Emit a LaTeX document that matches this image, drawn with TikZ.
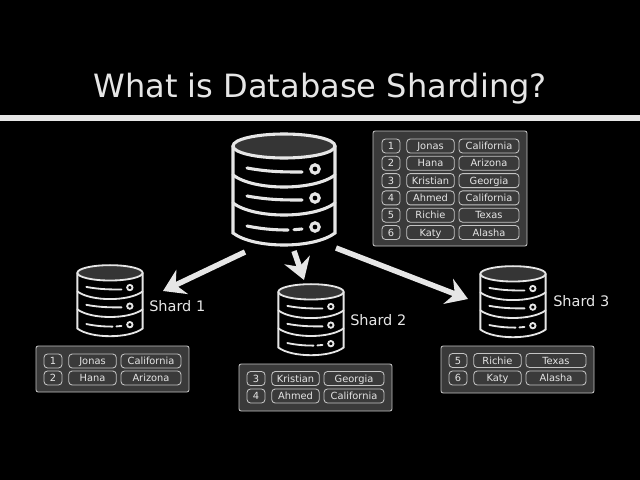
\documentclass[tikz,border=0pt]{standalone}
\usepackage{fontspec}
\setmainfont{DejaVu Sans}
\usetikzlibrary{arrows.meta}
\definecolor{inkwhite}{HTML}{E6E6E6}
\definecolor{cellline}{HTML}{C4C4C4}
\definecolor{panelgray}{HTML}{3A3A3A}
\definecolor{capgray}{HTML}{353535}

\tikzset{
  panelbox/.style={draw=cellline,fill=panelgray,rounded corners=1.5pt,line width=.6pt},
  cellbox/.style={draw=cellline,rounded corners=2.5pt,line width=.6pt,minimum height=.35cm,
    inner sep=0,text=inkwhite,text height=5pt,text depth=0pt,font=\fontsize{7}{8}\selectfont},
  numcell/.style={cellbox,minimum width=.45cm},
  namecell/.style={cellbox,minimum width=1.19cm},
  statecell/.style={cellbox,minimum width=1.5cm},
  shardlabel/.style={text=inkwhite,font=\fontsize{10.3}{12}\selectfont,inner sep=0},
  dbline/.style={draw=inkwhite,line width=2.2pt,line cap=round},
  bigarrow/.style={draw=inkwhite,line width=3.9pt,
    -{Stealth[length=15pt,width=19pt,inset=5pt]}},
  pics/dbicon/.style={code={
    \draw[dbline,fill=capgray] (0,-44) ellipse (51 and 12);
    \draw[dbline] (-51,-44) -- (-51,43) .. controls (-30,59) and (30,59) .. (51,43) -- (51,-44);
    \draw[dbline] (-51,-15) .. controls (-30,1) and (30,1) .. (51,-15);
    \draw[dbline] (-51,13) .. controls (-30,29) and (30,29) .. (51,13);
    \draw[dbline] (-37,-22) .. controls (-15,-18) and (0,-18) .. (18,-18);
    \draw[dbline] (-37,6) .. controls (-15,10) and (0,10) .. (18,10);
    \draw[dbline] (-37,36) .. controls (-22,39) and (-10,40) .. (4,40);
    \draw[dbline] (10,39.7) -- (18,39);
    \draw[dbline] (31,-21) circle (4.2);
    \draw[dbline] (31,8) circle (4.2);
    \draw[dbline] (31,37) circle (4.2);
  }}
}

% one table line: prefix, x of the number cell, y, then the three texts
\newcommand{\tablerow}[6]{
  \node[numcell] (#1num) at (#2,#3) {#4};
  \node[namecell] (#1name) at (#2+39.5,#3) {#5};
  \node[statecell] (#1state) at (#2+98,#3) {#6};
}

\begin{document}
\begin{tikzpicture}[x=.025cm,y=-.025cm,>=Stealth]
  \fill[black] (0,0) rectangle (640,480);

  \node[text=inkwhite,font=\fontsize{22.8}{28}\selectfont,inner sep=0] (title) at (320,89) {What is Database Sharding?};
  \fill[inkwhite] (0,115) rectangle (640,121);

  % databases
  \pic at (284,190) {dbicon};
  \pic[scale=.64,dbline/.append style={line width=1.3pt}] at (110,301) {dbicon};
  \pic[scale=.64,dbline/.append style={line width=1.3pt}] at (311,320) {dbicon};
  \pic[scale=.64,dbline/.append style={line width=1.3pt}] at (513,302) {dbicon};

  \node[shardlabel,anchor=west] (labelone) at (149,306) {Shard 1};
  \node[shardlabel,anchor=west] (labeltwo) at (350,320) {Shard 2};
  \node[shardlabel,anchor=west] (labelthree) at (553,301) {Shard 3};

  % arrows
  \coordinate (startone) at (245,252);
  \coordinate (endone) at (163,291);
  \coordinate (starttwo) at (294,251);
  \coordinate (endtwo) at (304,280);
  \coordinate (startthree) at (336,248);
  \coordinate (endthree) at (468,299);
  \draw[bigarrow] (startone) -- (endone);
  \draw[bigarrow] (starttwo) -- (endtwo);
  \draw[bigarrow] (startthree) -- (endthree);

  % full table
  \draw[panelbox] (373,131) rectangle (527,246);
  \foreach \i/\nm/\st in {1/Jonas/California,2/Hana/Arizona,3/Kristian/Georgia,
    4/Ahmed/California,5/Richie/Texas,6/Katy/Alasha}{
    \pgfmathsetmacro{\rowy}{146+(\i-1)*17.3}
    \tablerow{main\i}{391}{\rowy}{\i}{\nm}{\st}
  }

  % shard tables
  \draw[panelbox] (36,346) rectangle (189,392);
  \tablerow{oneA}{53}{361}{1}{Jonas}{California}
  \tablerow{oneB}{53}{378}{2}{Hana}{Arizona}

  \draw[panelbox] (239,364) rectangle (392,411);
  \tablerow{twoA}{256}{378.5}{3}{Kristian}{Georgia}
  \tablerow{twoB}{256}{396}{4}{Ahmed}{California}

  \draw[panelbox] (441,346) rectangle (594,393);
  \tablerow{threeA}{458}{360.5}{5}{Richie}{Texas}
  \tablerow{threeB}{458}{378}{6}{Katy}{Alasha}
\end{tikzpicture}
\end{document}
